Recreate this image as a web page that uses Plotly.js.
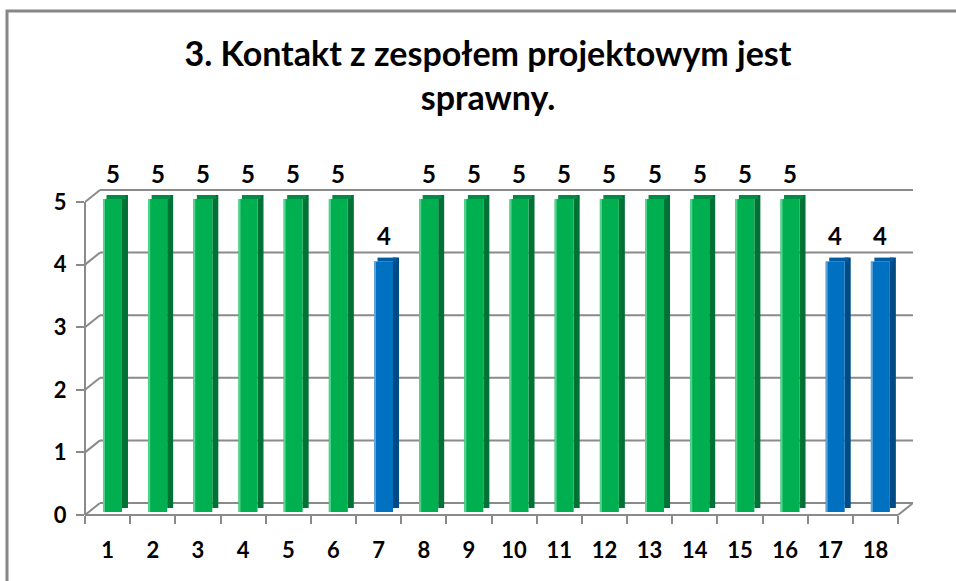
<!DOCTYPE html>
<html>
<head>
<meta charset="utf-8">
<script src="https://cdn.plot.ly/plotly-3.0.1.min.js"></script>
<style>html,body{margin:0;padding:0;background:#fff;}#chart{width:956px;height:581px;}</style>
</head>
<body>
<div id="chart"></div>
<script>
// ---- data ----
const categories = [1,2,3,4,5,6,7,8,9,10,11,12,13,14,15,16,17,18];
const tickLabels = ['1','2','3','4','5','6','7','8','9','10','11','12','13','14','15','16','17','18'];
const values = [5,5,5,5,5,5,4,5,5,5,5,5,5,5,5,5,4,4];
const yTicks = [0,1,2,3,4,5];
const titleText = '3. Kontakt z zespołem projektowym jest<br>sprawny.';

// ---- geometry / style ----
const W = 956, H = 581;
const L = 85, R = 913, T = 150, B = 530;
const FRONT0 = 515;           // pixel of value 0 on the front axis
const PXU = 62.6;             // pixels per value unit
const CATPX = 45.17;          // pixels per category
const DEPTHX = 15, DEPTHY = 12; // back-wall offset
const r0 = -(B - FRONT0) / PXU;
const r1 = (FRONT0 - T) / PXU;
const xr1 = 0.5 + (R - L) / CATPX;
const dx = DEPTHX / CATPX;
const lift = 3 / PXU;         // bars sit slightly behind the front edge
const capH = 4 / PXU;

const GRID = '#8a8a8a';
const fontFam = 'Lato, "Open Sans", sans-serif';

function isHigh(v){ return v >= 5; }
const frontCol = values.map(v => isHigh(v) ? '#00b050' : '#0070c0');
const sideCol  = values.map(v => isHigh(v) ? '#007236' : '#004b85');
const topCol   = values.map(v => isHigh(v) ? '#008c44' : '#005da3');
const hiCol    = values.map(v => isHigh(v) ? '#55d38f' : '#5fa3d9');

const traces = [
  { type:'bar', x:categories, y:values, base:lift+capH, width:6/CATPX, offset:(122-107.6)/CATPX,
    marker:{color:sideCol, line:{width:0}}, hoverinfo:'skip', showlegend:false },
  { type:'bar', x:categories, y:values.map(()=>capH), base:values.map(v=>v+lift), width:19/CATPX, offset:(106.5-107.6)/CATPX,
    marker:{color:topCol, line:{width:0}}, hoverinfo:'skip', showlegend:false },
  { type:'bar', x:categories, y:values, base:lift, width:19/CATPX, offset:(103-107.6)/CATPX,
    marker:{color:frontCol, line:{width:0}}, hovertemplate:'%{x}: %{y}<extra></extra>', showlegend:false },
  { type:'bar', x:categories, y:values, base:lift, width:2/CATPX, offset:(103-107.6)/CATPX,
    marker:{color:hiCol, line:{width:0}}, hoverinfo:'skip', showlegend:false }
];

const shapes = [];
yTicks.forEach(v => {
  shapes.push({type:'line', layer:'below', xref:'x', yref:'y', ysizemode:'pixel', yanchor:v,
    x0:0.5+dx, x1:xr1, y0:DEPTHY, y1:DEPTHY, line:{color:GRID, width:2}});
  shapes.push({type:'line', layer:'below', xref:'x', yref:'y', ysizemode:'pixel', yanchor:v,
    x0:0.5, x1:0.5+dx, y0:0, y1:DEPTHY, line:{color:GRID, width:2}});
});
shapes.push({type:'line', layer:'below', xref:'x', yref:'y', ysizemode:'pixel', yanchor:0,
  x0:0.5, x1:categories.length+0.5, y0:0, y1:0, line:{color:GRID, width:2}});
shapes.push({type:'line', layer:'below', xref:'x', yref:'y', ysizemode:'pixel', yanchor:0,
  x0:categories.length+0.5, x1:categories.length+0.5+dx, y0:0, y1:DEPTHY, line:{color:GRID, width:2}});
shapes.push({type:'line', layer:'below', xref:'paper', yref:'y', x0:0, x1:0,
  y0:yTicks[0], y1:yTicks[yTicks.length-1], line:{color:GRID, width:2}});
const pw = R - L, ph = B - T;
shapes.push({type:'rect', xref:'paper', yref:'paper',
  x0:(7-L)/pw, x1:(W+20-L)/pw, y0:(B-(H+20))/ph, y1:(B-11)/ph,
  line:{color:'#878787', width:3}, fillcolor:'rgba(0,0,0,0)'});

const annotations = categories.map((c,i) => ({
  x:c, y:values[i], xref:'x', yref:'y', text:String(values[i]), showarrow:false,
  xshift:5, yshift:29, yanchor:'middle',
  font:{family:fontFam, size:24, color:'#000', weight:700}
}));

const layout = {
  width:W, height:H,
  margin:{l:L, r:W-R, t:T, b:H-B, pad:0},
  paper_bgcolor:'#fff', plot_bgcolor:'rgba(0,0,0,0)',
  barmode:'overlay',
  showlegend:false,
  title:{text:titleText, x:488/W, xanchor:'center', y:1-66/H, yanchor:'top',
    font:{family:fontFam, size:34, color:'#000', weight:700}},
  xaxis:{range:[0.5, xr1], anchor:'free', position:(B-FRONT0)/ph,
    tickvals:categories, ticktext:tickLabels, ticks:'', showgrid:false, zeroline:false, showline:false,
    ticklabelstandoff:20,
    tickfont:{family:fontFam, size:22, color:'#000', weight:700},
    minor:{tickvals:categories.map(c=>c-0.5).concat([categories.length+0.5]), ticks:'outside', ticklen:8, tickwidth:2, tickcolor:GRID, showgrid:false}},
  yaxis:{range:[r0, r1], tickvals:yTicks, ticks:'outside', ticklen:8, tickwidth:2, tickcolor:GRID,
    showgrid:false, zeroline:false, showline:false, ticklabelstandoff:5,
    tickfont:{family:fontFam, size:22, color:'#000', weight:700}},
  shapes:shapes,
  annotations:annotations
};

Plotly.newPlot('chart', traces, layout, {displayModeBar:false, staticPlot:true});
</script>
</body>
</html>
